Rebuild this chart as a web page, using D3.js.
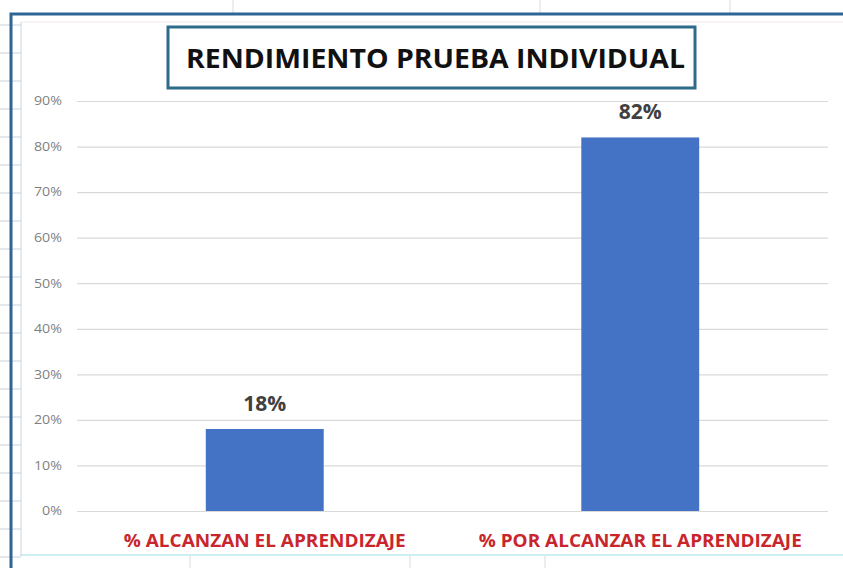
<!DOCTYPE html>
<html>
<head>
<meta charset="utf-8">
<script src="https://cdn.jsdelivr.net/npm/d3@7"></script>
<style>
  body { margin: 0; background: #ffffff; }
</style>
</head>
<body>
<svg width="843" height="568"></svg>
<script>
// chart data
const categories = ["% ALCANZAN EL APRENDIZAJE", "% POR ALCANZAR EL APRENDIZAJE"];
const values = [0.18, 0.82];
const valueLabels = ["18%", "82%"];
const yTicks = [0, 0.1, 0.2, 0.3, 0.4, 0.5, 0.6, 0.7, 0.8, 0.9];
const title = "RENDIMIENTO PRUEBA INDIVIDUAL";

const svg = d3.select("svg");
svg.append("rect").attr("width", 843).attr("height", 568).attr("fill", "#fff");

// spreadsheet background (cell lines around the chart)
const deco = svg.append("g");
[233, 540, 730].forEach((x) => {
  deco.append("line").attr("x1", x).attr("x2", x).attr("y1", 0).attr("y2", 14)
    .attr("stroke", "#d6dde3").attr("stroke-width", 1);
});
d3.range(25, 568, 28).forEach((y) => {
  deco.append("line").attr("x1", 0).attr("x2", 21).attr("y1", y).attr("y2", y)
    .attr("stroke", "#c9d2da").attr("stroke-width", 1);
});
deco.append("line").attr("x1", 21).attr("x2", 843).attr("y1", 555).attr("y2", 555)
  .attr("stroke", "#cdeef2").attr("stroke-width", 2);
[190, 410, 545].forEach((x) => {
  deco.append("line").attr("x1", x).attr("x2", x).attr("y1", 556).attr("y2", 568)
    .attr("stroke", "#d6dde3").attr("stroke-width", 1);
});
// inner chart area edge
deco.append("line").attr("x1", 21).attr("x2", 21).attr("y1", 22).attr("y2", 556)
  .attr("stroke", "#c8d4dc").attr("stroke-width", 1);
deco.append("line").attr("x1", 21).attr("x2", 843).attr("y1", 22).attr("y2", 22)
  .attr("stroke", "#f3e8e8").attr("stroke-width", 1);
// selection border
deco.append("path").attr("d", "M11,568 V14 H843")
  .attr("fill", "none").attr("stroke", "#2f6496").attr("stroke-width", 3);

// scales
const x = d3.scaleBand().domain(categories).range([77, 828]);
const y = d3.scaleLinear().domain([0, 0.9]).range([511, 101]);
const barW = x.bandwidth() * 0.314;

// gridlines + y labels
const yAxis = svg.append("g")
  .attr("transform", "translate(77,0)")
  .call(d3.axisLeft(y).tickValues(yTicks).tickFormat(d3.format(".0%"))
    .tickSize(-(828 - 77)).tickPadding(15));
yAxis.select(".domain").remove();
yAxis.selectAll(".tick line").attr("stroke", "#d9d9d9").attr("stroke-width", 1.2);
yAxis.selectAll(".tick text")
  .attr("fill", "#7f7f7f")
  .attr("textLength", 28)
  .attr("lengthAdjust", "spacingAndGlyphs")
  .style("font-family", "'Open Sans', sans-serif")
  .style("font-size", "12px");
yAxis.selectAll(".tick text").filter((d) => d === 0).attr("textLength", 20);

// bars
svg.selectAll(".bar").data(values).enter().append("rect")
  .attr("class", "bar")
  .attr("x", (d, i) => x(categories[i]) + (x.bandwidth() - barW) / 2)
  .attr("y", (d) => y(d))
  .attr("width", barW)
  .attr("height", (d) => y(0) - y(d))
  .attr("fill", "#4472c4");

// value labels
svg.selectAll(".val").data(values).enter().append("text")
  .attr("class", "val")
  .attr("x", (d, i) => x(categories[i]) + x.bandwidth() / 2)
  .attr("y", (d) => y(d) - 18)
  .attr("text-anchor", "middle")
  .attr("fill", "#404040")
  .style("font-family", "'Open Sans', sans-serif")
  .style("font-weight", "700")
  .style("font-size", "21px")
  .text((d, i) => valueLabels[i]);

// category labels
const catWidths = [282, 323];
svg.selectAll(".cat").data(categories).enter().append("text")
  .attr("class", "cat")
  .attr("x", (d) => x(d) + x.bandwidth() / 2)
  .attr("y", 547)
  .attr("text-anchor", "middle")
  .attr("textLength", (d, i) => catWidths[i])
  .attr("lengthAdjust", "spacingAndGlyphs")
  .attr("fill", "#c9252c")
  .style("font-family", "'Open Sans', sans-serif")
  .style("font-weight", "700")
  .style("font-size", "18px")
  .text((d) => d);

// title box
svg.append("rect")
  .attr("x", 168).attr("y", 27).attr("width", 527).attr("height", 61)
  .attr("fill", "#fff").attr("stroke", "#2e6a8a").attr("stroke-width", 3);
svg.append("text")
  .attr("x", 435.5).attr("y", 68)
  .attr("text-anchor", "middle")
  .attr("textLength", 499)
  .attr("lengthAdjust", "spacingAndGlyphs")
  .attr("fill", "#111")
  .style("font-family", "'Open Sans', sans-serif")
  .style("font-weight", "700")
  .style("font-size", "27px")
  .text(title);
</script>
</body>
</html>
